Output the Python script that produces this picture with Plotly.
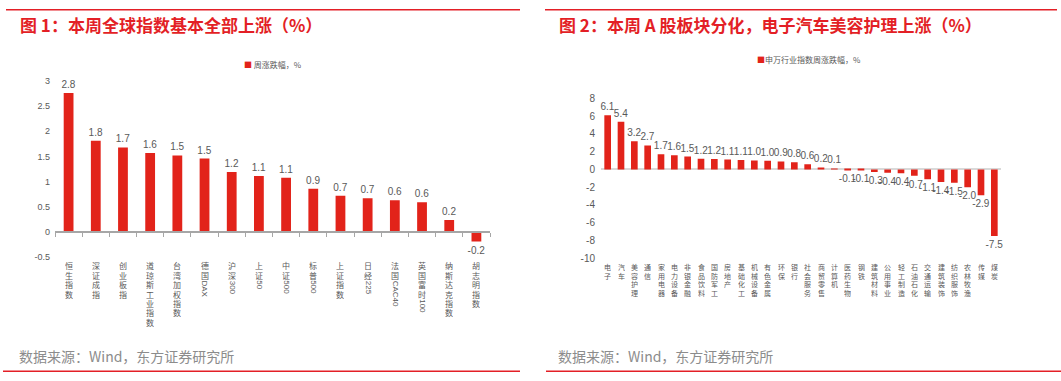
import plotly.graph_objects as go

W, H = 1061, 381

# ---------------- data ----------------
idx_names = ["恒生指数", "深证成指", "创业板指", "道琼斯工业指数", "台湾加权指数", "德国DAX",
             "沪深300", "上证50", "中证500", "标普500", "上证指数", "日经225", "法国CAC40",
             "英国富时100", "纳斯达克指数", "胡志明指数"]
idx_values = [2.76, 1.81, 1.68, 1.57, 1.52, 1.46, 1.19, 1.11, 1.08, 0.86, 0.72, 0.67, 0.63,
              0.59, 0.24, -0.19]

ind_names = ["电子", "汽车", "美容护理", "通信", "家用电器", "电力设备", "非银金融", "食品饮料",
             "国防军工", "房地产", "基础化工", "机械设备", "有色金属", "环保", "银行", "社会服务",
             "商贸零售", "计算机", "医药生物", "钢铁", "建筑材料", "公用事业", "轻工制造",
             "石油石化", "交通运输", "建筑装饰", "纺织服饰", "农林牧渔", "传媒", "煤炭"]
ind_values = [6.12, 5.38, 3.19, 2.71, 1.72, 1.61, 1.46, 1.22, 1.18, 1.12, 1.06, 1.02, 0.98,
              0.9, 0.8, 0.6, 0.21, 0.08, -0.08, -0.1, -0.3, -0.38, -0.42, -0.7, -1.1, -1.4,
              -1.5, -2.0, -2.9, -7.5]

left_ytickvals = [3, 2.5, 2, 1.5, 1, 0.5, 0, -0.5]
left_yticktext = ["3", "2.5", "2", "1.5", "1", "0.5", "0", "-0.5"]
right_ytickvals = [8, 6, 4, 2, 0, -2, -4, -6, -8, -10]
right_yticktext = ["8", "6", "4", "2", "0", "-2", "-4", "-6", "-8", "-10"]

title_left = "图 1：本周全球指数基本全部上涨（%）"
title_right = "图 2：本周 A 股板块分化，电子汽车美容护理上涨（%）"
legend_left = "周涨跌幅，%"
legend_right = "申万行业指数周涨跌幅，%"
source_text = "数据来源：Wind，东方证券研究所"

# ---------------- style ----------------
RED = "#E2231A"
TITLE_RED = "#E31F26"
GRAY_TXT = "#595959"
LAT = "Liberation Sans, Arial, Noto Sans CJK SC"
CJK = "Noto Sans CJK SC, Liberation Sans"


def fx(px):
    return px / W


def fy(py):
    return 1 - py / H


left_dom_x = [fx(55), fx(490)]
left_dom_y = [fy(259), fy(78)]
left_range = [-0.5, 3]
right_dom_x = [fx(601), fx(1001)]
right_dom_y = [fy(260), fy(96)]
right_range = [-10, 8]

# position of the left x axis line = value 0 on the y scale
zero_pos = left_dom_y[0] + (0 - left_range[0]) / (left_range[1] - left_range[0]) * (left_dom_y[1] - left_dom_y[0])

fig = go.Figure()

fig.add_trace(go.Bar(
    x=idx_names, y=idx_values, xaxis="x", yaxis="y",
    marker=dict(color=RED, line=dict(width=0)), width=0.36,
    text=[f"{v:.1f}" for v in idx_values], textposition="outside",
    textfont=dict(family=LAT, size=10, color=GRAY_TXT),
    constraintext="none", cliponaxis=False, showlegend=False,
))
fig.add_trace(go.Bar(
    x=ind_names, y=ind_values, xaxis="x2", yaxis="y2",
    marker=dict(color=RED, line=dict(width=0)), width=0.5,
    text=[f"{v:.1f}" for v in ind_values], textposition="outside",
    textfont=dict(family=LAT, size=10, color=GRAY_TXT),
    constraintext="none", cliponaxis=False, showlegend=False,
))

annotations = []


def ascii_width(s, fs):
    w = 0
    for c in s:
        if c.isdigit():
            w += 0.556
        elif c.isupper():
            w += 0.69
        else:
            w += 0.5
    return w * fs


def runs(text):
    out, buf = [], ""
    for c in text:
        if ord(c) < 128:
            buf += c
        else:
            if buf:
                out.append(buf)
                buf = ""
            out.append(c)
    if buf:
        out.append(buf)
    return out


def vertical_labels(names, xref, yref, fs, step, offset):
    for i, name in enumerate(names):
        cum = offset
        for r in runs(name):
            if ord(r[0]) < 128:
                h = ascii_width(r, fs) + 1.5
                ang = 90
                fam = LAT
                bh = fs
            else:
                h = step
                ang = 0
                fam = CJK
                bh = step - 0.5
            annotations.append(dict(
                x=i, xref=xref, y=0, yref=yref, yanchor="middle", xanchor="center",
                yshift=-(cum + h / 2), text=r, textangle=ang, showarrow=False,
                borderpad=0, height=bh, valign="middle",
                font=dict(family=fam, size=fs, color=GRAY_TXT),
            ))
            cum += h


vertical_labels(idx_names, "x", "y domain", 8, 9.4, 4)
vertical_labels(ind_names, "x2", "y2 domain", 7, 8.4, 5)

# titles
annotations.append(dict(x=fx(18), y=fy(20), xref="paper", yref="paper", xanchor="left", yanchor="middle",
                        text=title_left, showarrow=False,
                        font=dict(family=CJK, size=17, color=TITLE_RED, weight="bold")))
annotations.append(dict(x=fx(557), y=fy(20), xref="paper", yref="paper", xanchor="left", yanchor="middle",
                        text=title_right, showarrow=False,
                        font=dict(family=CJK, size=17, color=TITLE_RED, weight="bold")))
# legends
annotations.append(dict(x=fx(242), y=fy(61), xref="paper", yref="paper", xanchor="left", yanchor="middle",
                        text=f"<span style='color:{RED}'>■</span> {legend_left}", showarrow=False,
                        font=dict(family=CJK, size=8, color=GRAY_TXT)))
annotations.append(dict(x=fx(755), y=fy(56), xref="paper", yref="paper", xanchor="left", yanchor="middle",
                        text=f"<span style='color:{RED}'>■</span>{legend_right}", showarrow=False,
                        font=dict(family=CJK, size=8, color=GRAY_TXT)))
# sources
for xs in (17, 556):
    annotations.append(dict(x=fx(xs), y=fy(360), xref="paper", yref="paper", xanchor="left", yanchor="middle",
                            text=source_text, showarrow=False,
                            font=dict(family=CJK, size=14, color="#8C8C8C")))

shapes = []
for x0, x1 in ((6, 520), (545, 1057)):
    shapes.append(dict(type="line", xref="paper", yref="paper", x0=fx(x0), x1=fx(x1), y0=fy(5), y1=fy(5),
                       line=dict(color=TITLE_RED, width=1.5)))
for x0, x1 in ((3, 520), (546, 1061)):
    shapes.append(dict(type="line", xref="paper", yref="paper", x0=fx(x0), x1=fx(x1), y0=fy(376), y1=fy(376),
                       line=dict(color=TITLE_RED, width=1.5)))

fig.update_layout(
    width=W, height=H, margin=dict(l=0, r=0, t=0, b=0),
    paper_bgcolor="white", plot_bgcolor="white",
    bargap=0.5,
    annotations=annotations, shapes=shapes,
    xaxis=dict(domain=left_dom_x, anchor="free", position=zero_pos, type="category",
               showticklabels=False, showline=True, linecolor="#A6A6A6", linewidth=1.5,
               ticks="outside", tickson="boundaries", ticklen=4, tickcolor="#A6A6A6", tickwidth=1,
               showgrid=False, zeroline=False, fixedrange=True),
    yaxis=dict(domain=left_dom_y, anchor="x", range=left_range, tickvals=left_ytickvals,
               ticktext=left_yticktext, showgrid=False, zeroline=False, showline=False,
               tickfont=dict(family=LAT, size=9, color=GRAY_TXT), ticks="", ticklabelstandoff=4),
    xaxis2=dict(domain=right_dom_x, anchor="y2", type="category", showticklabels=False,
                showline=False, ticks="", showgrid=False, zeroline=False),
    yaxis2=dict(domain=right_dom_y, anchor="x2", range=right_range, tickvals=right_ytickvals,
                ticktext=right_yticktext, showgrid=False, zeroline=True, zerolinecolor="#D9D9D9",
                zerolinewidth=2, showline=False,
                tickfont=dict(family=LAT, size=10, color=GRAY_TXT), ticks="", ticklabelstandoff=5),
    font=dict(family=CJK),
)

fig.write_html("out.html", config={"displayModeBar": False},
               post_script="document.body.style.margin='0px';document.body.style.overflow='hidden';")
